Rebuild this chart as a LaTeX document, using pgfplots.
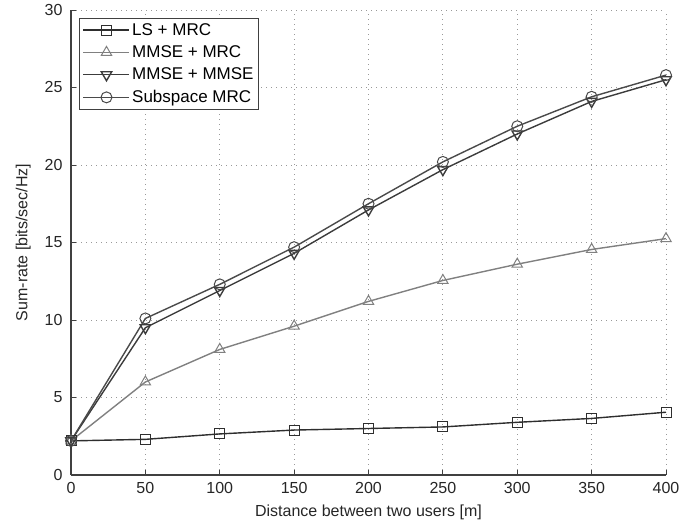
\documentclass[border=0pt]{standalone}
\usepackage{pgfplots}
\pgfplotsset{compat=1.18}
\usepackage{fontspec}
\setmainfont{Liberation Sans}
\definecolor{cA}{HTML}{2E2E2E}
\definecolor{cB}{HTML}{808080}
\definecolor{cC}{HTML}{3C3C3C}
\definecolor{cD}{HTML}{4A4A4A}
\begin{document}
\begin{tikzpicture}
\begin{axis}[
  name=ax,
  scale only axis,
  width=595pt, height=465pt,
  xmin=0, xmax=400, ymin=0, ymax=30,
  xtick={0,50,...,400}, ytick={0,5,...,30},
  axis lines=left,
  axis line style={-, draw=black!75, line width=1.1pt},
  tick align=inside,
  major tick length=5pt,
  tick style={black!75, line width=0.8pt},
  grid=major,
  grid style={dash pattern=on 1pt off 4pt, black!40, line width=0.8pt},
  /pgf/number format/assume math mode=true,
  ticklabel style={font=\fontsize{16}{18}\selectfont, text=black!85},
  xticklabel style={yshift=-4pt},
  yticklabel style={xshift=-5pt},
  xlabel={Distance between two users [m]},
  ylabel={Sum-rate [bits/sec/Hz]},
  label style={font=\fontsize{16}{18}\selectfont, text=black!85},
  xlabel style={yshift=-4pt},
  ylabel style={yshift=7pt},
  legend cell align=left,
  legend style={font=\fontsize{17}{20}\selectfont, draw=black!75, line width=0.9pt, at={(0.014,0.983)}, anchor=north west, inner xsep=3pt, inner ysep=3pt, row sep=5pt},
  legend image code/.code={\draw[#1,mark=none] (0pt,0pt) -- (46pt,0pt); \draw[#1] plot coordinates {(23pt,0pt)};},
  every axis plot/.append style={line width=1.4pt, mark size=5pt, mark options={solid, line width=1pt, fill=none}},
]
\addplot[color=cA, mark=square, mark size=5pt] coordinates {(0,2.2) (50,2.3) (100,2.65) (150,2.9) (200,3.0) (250,3.1) (300,3.4) (350,3.65) (400,4.05)};
\addlegendentry{LS + MRC}
\addplot[color=cB, mark=triangle, mark size=6pt] coordinates {(0,2.2) (50,6.0) (100,8.1) (150,9.6) (200,11.2) (250,12.55) (300,13.6) (350,14.55) (400,15.25)};
\addlegendentry{MMSE + MRC}
\addplot[color=cC, mark=triangle, mark size=6pt, mark options={rotate=180}] coordinates {(0,2.2) (50,9.5) (100,11.9) (150,14.3) (200,17.1) (250,19.7) (300,22.0) (350,24.1) (400,25.5)};
\addlegendentry{MMSE + MMSE}
\addplot[color=cD, mark=o, mark size=5.5pt] coordinates {(0,2.2) (50,10.1) (100,12.3) (150,14.7) (200,17.5) (250,20.2) (300,22.5) (350,24.4) (400,25.8)};
\addlegendentry{Subspace MRC}
\end{axis}
\path ([xshift=-71pt,yshift=-50pt]ax.south west) rectangle ([xshift=30pt,yshift=10pt]ax.north east);
\end{tikzpicture}
\end{document}
